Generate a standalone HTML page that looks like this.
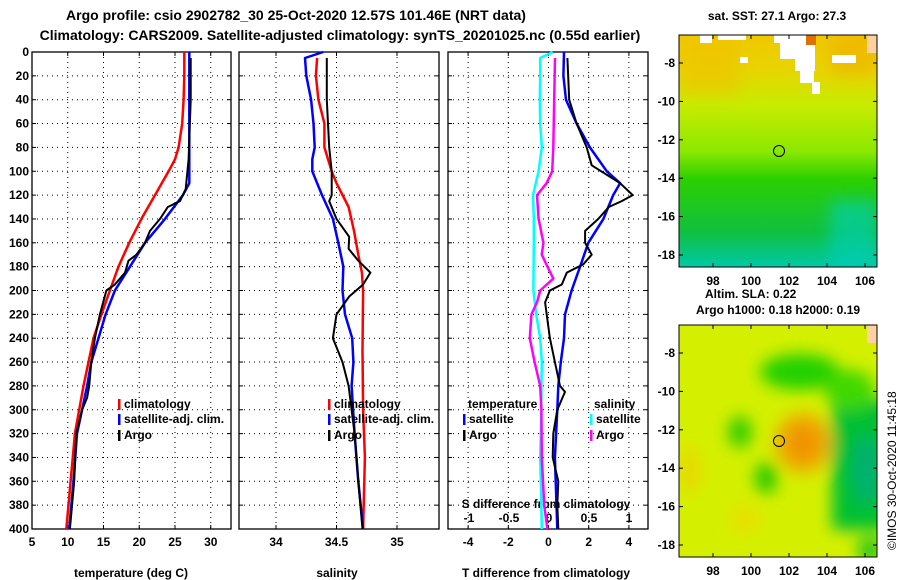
<!DOCTYPE html>
<html><head><meta charset="utf-8"><style>
body{margin:0;background:#fff;}
svg{display:block;font-family:"Liberation Sans",sans-serif;font-weight:bold;}
</style></head><body>
<svg id="fig" width="900" height="580" viewBox="0 0 900 580">
<defs>
<linearGradient id="sstg" x1="0" y1="0" x2="0" y2="1">
<stop offset="0" stop-color="#f0c800"/><stop offset="0.15" stop-color="#e8d400"/><stop offset="0.3" stop-color="#c8ec00"/><stop offset="0.5" stop-color="#8ce800"/><stop offset="0.62" stop-color="#2cd000"/><stop offset="0.85" stop-color="#10c040"/><stop offset="1" stop-color="#00c8a8"/></linearGradient>
<filter id="bl" x="-50%" y="-50%" width="200%" height="200%"><feGaussianBlur stdDeviation="8"/></filter>
<clipPath id="c1"><rect x="679" y="35" width="198" height="232"/></clipPath>
<clipPath id="c2"><rect x="679" y="325" width="198" height="232"/></clipPath>
</defs>
<text x="296" y="20" font-size="14" text-anchor="middle">Argo profile: csio 2902782_30 25-Oct-2020 12.57S 101.46E (NRT data)</text>
<text x="340" y="40" font-size="14" text-anchor="middle">Climatology: CARS2009. Satellite-adjusted climatology: synTS_20201025.nc (0.55d earlier)</text>
<g id="p1"></g>
<g id="p2"></g>
<g id="p3"></g>
<g>
<text x="777" y="20" font-size="12" text-anchor="middle">sat. SST: 27.1 Argo: 27.3</text>
<g clip-path="url(#c1)">
<rect x="679" y="35" width="198" height="232" fill="url(#sstg)"/>
<rect x="679" y="35" width="60" height="60" fill="#f0c000" opacity="0.5" filter="url(#bl)"/>
<rect x="830" y="35" width="47" height="40" fill="#f0a800" opacity="0.5" filter="url(#bl)"/>
<rect x="830" y="200" width="47" height="67" fill="#00d0c0" opacity="0.6" filter="url(#bl)"/>
<rect x="700" y="35" width="12" height="8" fill="#fff"/><rect x="718" y="35" width="28" height="5" fill="#fff"/>
<rect x="774" y="35" width="40" height="8" fill="#fff"/><rect x="780" y="43" width="35" height="16" fill="#fff"/>
<rect x="795" y="59" width="20" height="12" fill="#fff"/><rect x="800" y="71" width="14" height="12" fill="#fff"/>
<rect x="740" y="57" width="8" height="6" fill="#fff"/>
<rect x="832" y="55" width="24" height="8" fill="#fff"/><rect x="812" y="82" width="8" height="12" fill="#fff"/>
<rect x="806" y="35" width="10" height="10" fill="#e07000"/>
<rect x="867" y="35" width="10" height="18" fill="#ffd0a0"/>
</g>
<rect x="679" y="35" width="198" height="232" fill="none" stroke="#000" stroke-width="1"/>
<circle cx="779" cy="151" r="5.5" fill="none" stroke="#000" stroke-width="1"/>
</g>
<g>
<text x="705" y="298" font-size="12">Altim. SLA: 0.22</text>
<text x="778" y="314" font-size="12" text-anchor="middle">Argo h1000: 0.18 h2000: 0.19</text>
<g clip-path="url(#c2)">
<rect x="679" y="325" width="198" height="232" fill="#d4f000"/>
<g filter="url(#bl)">
<ellipse cx="803" cy="443" rx="28" ry="30" fill="#f0a800"/>
<ellipse cx="803" cy="443" rx="14" ry="16" fill="#f09000"/>
<rect x="832" y="400" width="60" height="130" fill="#00c030"/>
<ellipse cx="866" cy="470" rx="14" ry="35" fill="#00b070"/>
<ellipse cx="800" cy="372" rx="40" ry="18" fill="#20d000"/>
<ellipse cx="850" cy="390" rx="25" ry="20" fill="#40d800"/>
<ellipse cx="740" cy="432" rx="12" ry="16" fill="#30cc00"/>
<ellipse cx="766" cy="478" rx="11" ry="16" fill="#20c800"/>
<ellipse cx="690" cy="470" rx="10" ry="25" fill="#e8d800"/>
<ellipse cx="745" cy="520" rx="15" ry="15" fill="#e8e000"/>
<ellipse cx="870" cy="550" rx="12" ry="12" fill="#10c020"/>
</g>
<rect x="867" y="325" width="10" height="18" fill="#ffd0a0"/>
</g>
<rect x="679" y="325" width="198" height="232" fill="none" stroke="#000" stroke-width="1"/>
<circle cx="779" cy="441" r="5.5" fill="none" stroke="#000" stroke-width="1"/>
</g>
<text transform="translate(896,550) rotate(-90)" font-size="12" font-weight="normal">©IMOS 30-Oct-2020 11:45:18</text>
</svg>
<script>
// ---- data ----
const tClimDepth=[0,20,40,60,80,90,100,120,140,160,180,200,220,240,260,280,300,320,340,360,380,400];
const tClimVal=[26.3,26.3,26.2,26.0,25.5,25.0,24.1,22.2,20.3,18.6,17.1,15.9,14.7,13.6,12.9,12.2,11.6,11.0,10.7,10.4,10.1,9.8];
const tSatDepth=[0,40,80,110,120,140,160,180,200,220,240,260,280,300,320,360,400];
const tSatVal=[27.0,27.0,27.0,27.0,26.1,23.6,20.8,18.7,16.6,15.3,14.3,13.3,12.7,12.0,11.3,10.8,10.2];
const tArgoDepth=[5,40,90,115,125,130,140,150,160,170,175,185,195,200,220,240,260,280,290,300,320,360,400];
const tArgoVal=[27.2,27.2,26.9,26.5,25.7,24.0,22.9,21.5,20.8,19.6,18.5,18.0,16.6,15.4,14.5,13.8,13.3,13.0,12.7,12.0,11.2,10.9,10.3];
const sClimDepth=[5,20,40,60,80,100,110,130,150,170,185,200,250,300,340,400];
const sClimVal=[34.34,34.33,34.35,34.40,34.40,34.46,34.50,34.60,34.645,34.68,34.71,34.72,34.715,34.72,34.735,34.72];
const sSatDepth=[0,5,20,40,60,80,90,100,120,140,160,180,200,220,240,260,280,320,360,400];
const sSatVal=[34.39,34.24,34.25,34.29,34.31,34.32,34.30,34.30,34.38,34.47,34.515,34.556,34.55,34.57,34.63,34.64,34.625,34.65,34.68,34.72];
const sArgoDepth=[5,40,80,100,120,125,140,155,165,175,185,195,205,220,240,260,280,320,360,400];
const sArgoVal=[34.42,34.42,34.44,34.46,34.46,34.44,34.50,34.605,34.60,34.68,34.78,34.72,34.605,34.50,34.47,34.55,34.60,34.65,34.68,34.715];
const dTSatDepth=[0,20,40,60,80,100,110,120,140,160,180,200,220,240,260,280,300,340,400];
const dTSatVal=[0.77,0.74,0.87,1.40,2.06,2.9,3.56,3.22,2.73,1.98,1.57,1.15,0.82,0.77,0.61,0.49,0.44,0.32,0.44];
const dTArgoDepth=[5,40,60,80,95,110,120,125,130,140,150,160,170,178,185,195,200,210,220,240,260,280,285,300,320,340,360,380,400];
const dTArgoVal=[0.94,1.03,1.40,1.90,2.15,3.56,4.19,3.64,3.0,2.48,1.82,1.82,2.15,1.73,0.91,0.66,0.07,-0.17,-0.09,0.07,0.32,0.57,0.82,0.44,0.24,0.21,0.49,0.44,0.49];
const dSSatDepth=[0,5,20,40,60,80,100,120,140,160,200,220,240,260,280,300,340,380,400];
const dSSatVal=[0.046,-0.11,-0.11,-0.115,-0.11,-0.09,-0.13,-0.20,-0.19,-0.19,-0.195,-0.16,-0.11,-0.09,-0.095,-0.095,-0.11,-0.095,-0.09];
const dSArgoDepth=[5,40,80,100,110,120,140,160,170,180,190,200,210,220,240,260,280,300,340,380,400];
const dSArgoVal=[0.075,0.065,0.054,0.04,-0.03,-0.15,-0.13,-0.07,-0.09,-0.02,0.054,-0.11,-0.15,-0.22,-0.24,-0.18,-0.11,-0.095,-0.09,-0.06,-0.02];
const depthTicks=[0,20,40,60,80,100,120,140,160,180,200,220,240,260,280,300,320,340,360,380,400];
const tTicks=[5,10,15,20,25,30];
const sTicks=[34,34.5,35];
const dTTicks=[-4,-2,0,2,4];
const dSTicks=[-1,-0.5,0,0.5,1];
// ---- drawing ----
const NS='http://www.w3.org/2000/svg';
const Y0=52,Y1=529;
const yScale=d=>Y0+(d/400)*(Y1-Y0);
function mk(parent,tag,attrs,txt){const e=document.createElementNS(NS,tag);for(const k in attrs)e.setAttribute(k,attrs[k]);if(txt!==undefined)e.textContent=txt;parent.appendChild(e);return e;}
function frame(g,x0,x1,gridXs,leftLabels){
  for(const d of depthTicks){const y=yScale(d);
    if(d>0&&d<400){const gl=mk(g,'line',{x1:x0,x2:x1,y1:y,y2:y,stroke:'#000','stroke-width':1,'stroke-dasharray':'1,4'});
      
      }
    mk(g,'line',{x1:x0,x2:x0+4,y1:y,y2:y,stroke:'#000'});mk(g,'line',{x1:x1-4,x2:x1,y1:y,y2:y,stroke:'#000'});
    if(leftLabels){const t=mk(g,'text',{x:x0-3,y:y+4,'font-size':12,'text-anchor':'end'},String(d));
      
      }
  }
  for(const x of gridXs){const gl=mk(g,'line',{x1:x,x2:x,y1:Y0,y2:Y1,stroke:'#000','stroke-dasharray':'1,4'});
    
    
    mk(g,'line',{x1:x,x2:x,y1:Y0,y2:Y0+4,stroke:'#000'});mk(g,'line',{x1:x,x2:x,y1:Y1-4,y2:Y1,stroke:'#000'});}
  const r=mk(g,'rect',{x:x0,y:Y0,width:x1-x0,height:Y1-Y0,fill:'none',stroke:'#000','stroke-width':1.3});
  
  
}
function line(g,depths,vals,xs,color,w,name){
  const pts=depths.map((d,i)=>xs(vals[i]).toFixed(1)+','+yScale(d).toFixed(1)).join(' ');
  const p=mk(g,'polyline',{points:pts,fill:'none',stroke:color,'stroke-width':w,'stroke-linejoin':'round'});
  
  
}
function legend(g,x,y,color,label,name){
  mk(g,'rect',{x:x,y:y-9,width:2.5,height:11,fill:color});
  const t=mk(g,'text',{x:x+6,y:y,'font-size':12},label);
  
  
}
// Panel 1
const g1=document.getElementById('p1');
const xT=v=>32+(v-5)*7.15;
frame(g1,32,231,tTicks.filter(v=>v>5).map(xT),true);
for(const v of tTicks){const t=mk(g1,'text',{x:xT(v),y:546,'font-size':12,'text-anchor':'middle'},String(v));
  
  }
const a1=mk(g1,'text',{x:131,y:577,'font-size':12,'text-anchor':'middle'},'temperature (deg C)');


line(g1,tClimDepth,tClimVal,xT,'#f00',2.5,'temperature-climatology-line');
line(g1,tSatDepth,tSatVal,xT,'#00f',2.5,'temperature-satellite-line');
line(g1,tArgoDepth,tArgoVal,xT,'#000',2,'temperature-argo-line');
legend(g1,118,408,'#f00','climatology','legend-climatology');
legend(g1,118,423,'#00f','satellite-adj. clim.','legend-satellite-adj');
legend(g1,118,439,'#000','Argo','legend-argo');
// Panel 2
const g2=document.getElementById('p2');
const xS=v=>276+(v-34)*121;
frame(g2,239,439,sTicks.map(xS),false);
for(const v of sTicks){const t=mk(g2,'text',{x:xS(v),y:546,'font-size':12,'text-anchor':'middle'},String(v));
  
  }
const a2=mk(g2,'text',{x:337,y:577,'font-size':12,'text-anchor':'middle'},'salinity');


line(g2,sClimDepth,sClimVal,xS,'#f00',2.5,'salinity-climatology-line');
line(g2,sSatDepth,sSatVal,xS,'#00f',2.5,'salinity-satellite-line');
line(g2,sArgoDepth,sArgoVal,xS,'#000',2,'salinity-argo-line');
legend(g2,328,408,'#f00','climatology','legend-climatology');
legend(g2,328,423,'#00f','satellite-adj. clim.','legend-satellite-adj');
legend(g2,328,439,'#000','Argo','legend-argo');
// Panel 3
const g3=document.getElementById('p3');
const xDT=v=>548.5+v*20.1;
const xDS=v=>549+v*80;
frame(g3,448,648,dTTicks.map(xDT),false);
for(const v of dTTicks){const t=mk(g3,'text',{x:xDT(v),y:546,'font-size':12,'text-anchor':'middle'},String(v));
  
  }
for(const v of dSTicks){const t=mk(g3,'text',{x:xDS(v),y:522,'font-size':12,'text-anchor':'middle'},String(v));
  
  }
const a3=mk(g3,'text',{x:546,y:577,'font-size':12,'text-anchor':'middle'},'T difference from climatology');


const a4=mk(g3,'text',{x:546,y:508,'font-size':12,'text-anchor':'middle'},'S difference from climatology');


line(g3,dSSatDepth,dSSatVal,xDS,'#0ff',2.5,'s-diff-satellite-line');
line(g3,dSArgoDepth,dSArgoVal,xDS,'#f0f',2.5,'s-diff-argo-line');
line(g3,dTSatDepth,dTSatVal,xDT,'#00f',2.5,'t-diff-satellite-line');
line(g3,dTArgoDepth,dTArgoVal,xDT,'#000',2,'t-diff-argo-line');
const lt=mk(g3,'text',{x:468,y:408,'font-size':12},'temperature');


const ls=mk(g3,'text',{x:594,y:408,'font-size':12},'salinity');


legend(g3,463,423,'#00f','satellite','legend-t-satellite');
legend(g3,463,439,'#000','Argo','legend-t-argo');
legend(g3,590,423,'#0ff','satellite','legend-s-satellite');
legend(g3,590,439,'#f0f','Argo','legend-s-argo');
// Map axes
const lats=[-8,-10,-12,-14,-16,-18], lons=[98,100,102,104,106];
function mapAxes(top){
  const g=document.getElementById('fig');
  for(const la of lats){const y=top+28+(-8-la)*19.2;
    mk(g,'line',{x1:679,x2:683,y1:y,y2:y,stroke:'#000'});mk(g,'line',{x1:873,x2:877,y1:y,y2:y,stroke:'#000'});
    const t=mk(g,'text',{x:675,y:y+4,'font-size':12,'text-anchor':'end'},String(la));
    
    }
  for(const lo of lons){const x=713+(lo-98)*19;
    mk(g,'line',{x1:x,x2:x,y1:top,y2:top+4,stroke:'#000'});mk(g,'line',{x1:x,x2:x,y1:top+228,y2:top+232,stroke:'#000'});
    const t=mk(g,'text',{x:x,y:top+250,'font-size':12,'text-anchor':'middle'},String(lo));
    
    }
}
mapAxes(35);mapAxes(325);
</script>
</body></html>
